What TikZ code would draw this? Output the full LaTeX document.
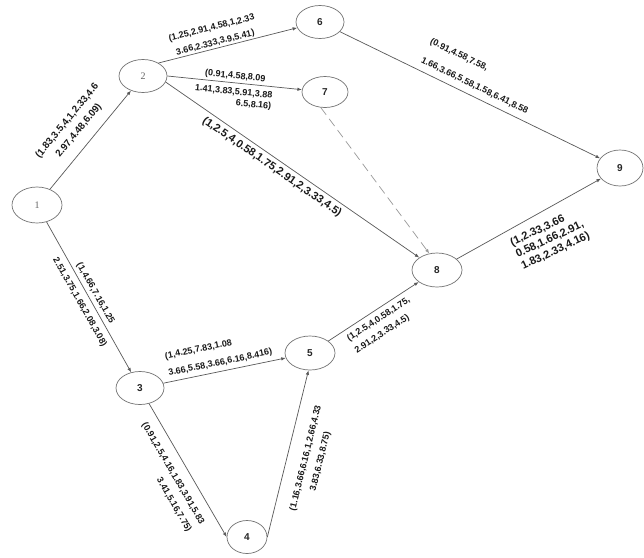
\documentclass[tikz,border=0pt]{standalone}
\usepackage{fontspec}
\usetikzlibrary{shapes.geometric,arrows.meta}
\newfontfamily\lblsans{Liberation Sans}
\newfontfamily\numserif{Liberation Serif}
\begin{document}
\begin{tikzpicture}[x=1pt,y=-1pt,
  nd/.style={ellipse, draw=black!55, line width=0.7pt, minimum width=48pt, minimum height=33pt, inner sep=0pt, text=black!85, font=\lblsans\bfseries\fontsize{10}{12}\selectfont},
  ndserif/.style={nd, font=\numserif\fontsize{10}{12}\selectfont, text=black!60},
  con/.style={draw=black!65, line width=0.7pt, -{Latex[length=4.5pt,width=3.5pt]}},
  dcon/.style={con, dash pattern=on 9pt off 5pt, draw=black!40},
  lbl/.style={font=\lblsans\bfseries\fontsize{9}{15}\selectfont, text=black!90, sloped, inner sep=1pt},
  lblbig/.style={lbl, font=\lblsans\bfseries\fontsize{11}{13}\selectfont}
]
\useasboundingbox (0,0) rectangle (644,557);
\fill[white] (0,0) rectangle (644,557);
% nodes
\node[ndserif, minimum width=50pt, minimum height=36pt] (n1) at (37,205) {1};
\node[ndserif] (n2) at (143,76) {2};
\node[nd] (n6) at (320,22) {6};
\node[nd, minimum width=46pt, minimum height=31pt] (n7) at (325,92) {7};
\node[nd, minimum width=46pt, minimum height=36pt] (n9) at (620,168) {9};
\node[nd, minimum width=50pt, minimum height=34pt] (n8) at (437,270) {8};
\node[nd, minimum width=50pt, minimum height=34pt] (n5) at (310,353) {5};
\node[nd] (n3) at (140,388) {3};
\node[nd, minimum width=40pt, minimum height=33pt] (n4) at (247,537) {4};
% connectors
\draw[con] (n1) -- (n2)
  node[lbl, font=\lblsans\bfseries\fontsize{9.8}{15}\selectfont, midway, above=9pt, align=center] {(1.83,3.5,4,1,2.33,4.6\\2.97,4.48,6.09)};
\draw[con] (n2.40) -- (n6)
  node[lbl, pos=0.42, above=0pt, align=center] {(1.25,2.91,4.58,1,2.33\\3.66,2.333,3.9,5.41)};
\draw[con] (n2.east) -- (n7)
  node[lbl, pos=0.5, above=1pt] {(0.91,4.58,8.09}
  node[lbl, pos=0.5, below=4pt, align=right] {1.41,3.83,5.91,3.88\\[-4pt]6.5,8.16)};
\draw[con] (n2.-15) -- (n8.145)
  node[lbl, font=\lblsans\bfseries\fontsize{11}{13}\selectfont, pos=0.44, below=3pt] {(1,2.5,4,0.58,1.75,2.91,2,3.33,4.5)};
\draw[dcon] (n7.255) -- (n8.115);
\draw[con] (n6) -- (n9)
  node[lbl, pos=0.5, above=5pt, align=left] {(0.91,4.58,7.58,\\[6pt]1.66,3.66,5.58,1.58,6.41,8.58};
\draw[con] (n8) -- (n9)
  node[lblbig, pos=0.56, below=9pt, rotate=-4, align=left] {(1,2.33,3.66\\0.58,1.66,2.91,\\1.83,2.33,4.16)};
\draw[con] (n1) -- (n3)
  node[lbl, midway, above=2pt] {(1,4.66,7.16,1.25}
  node[lbl, midway, below=5pt] {2.51,3.75,1.66,2.08,3.08)};
\draw[con] (n3) -- (n5)
  node[lbl, pos=0.48, above=3pt, align=left] {(1,4.25,7.83,1.08\\[2pt]3.66,5.58,3.66,6.16,8.416)};
\draw[con] (n5) -- (n8)
  node[lbl, pos=0.5, below=4pt, align=left] {(1,2.5,4,0.58,1.75,\\[-1pt]2.91,2,3.33,4.5)};
\draw[con] (n3) -- (n4.west)
  node[lbl, pos=0.47, below=9pt, align=right] {(0.91,2.5,4.16,1.83,3.91,5.83\\3.41,5.16,7.75)};
\draw[con] (n4.east) -- (n5.265)
  node[lbl, pos=0.5, below=13pt, align=center] {(1.16,3.66,6.16,1,2.66,4.33\\3.83,6.33,8.75)};
\end{tikzpicture}
\end{document}
